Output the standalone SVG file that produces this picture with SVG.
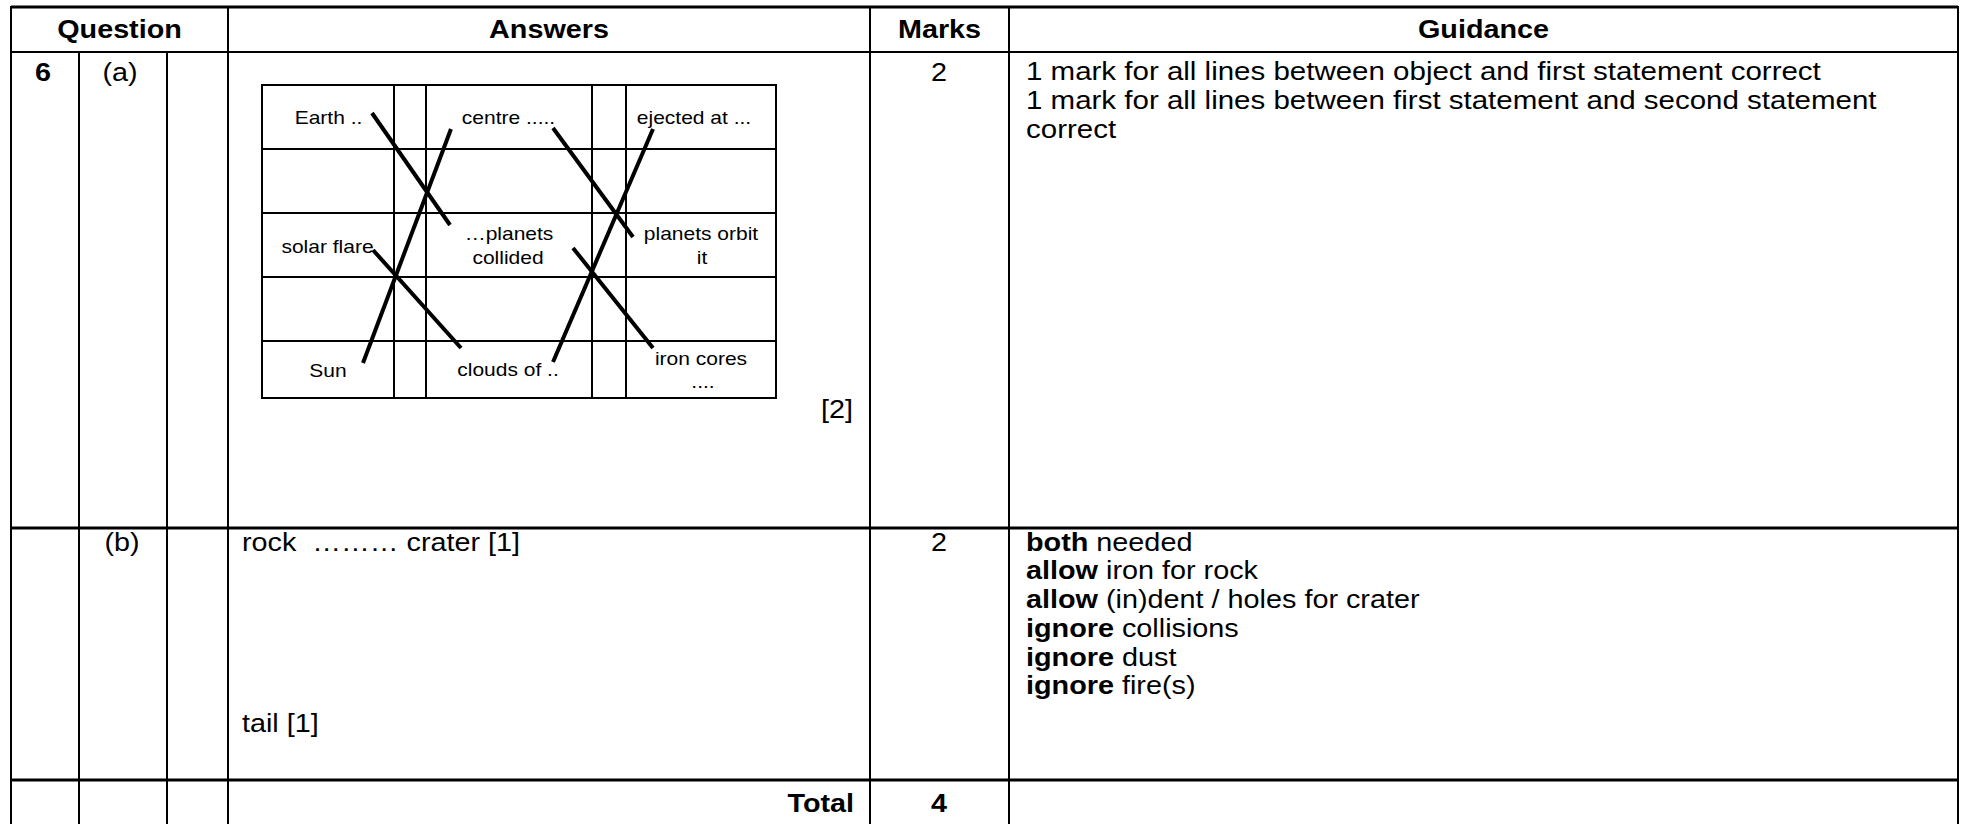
<svg xmlns="http://www.w3.org/2000/svg" width="1961" height="824" viewBox="0 0 1961 824">
<style>
.t{font-family:"Liberation Sans",Arial,sans-serif;font-size:25px;fill:#000}
.b{font-weight:bold}
.m{text-anchor:middle}
.e{text-anchor:end}
.s{font-family:"Liberation Sans",Arial,sans-serif;font-size:17.5px;fill:#000;text-anchor:middle}
.g{stroke:#000;stroke-width:2;fill:none}
.h{stroke:#000;stroke-width:3;fill:none}
.c{stroke:#000;stroke-width:4;fill:none}
</style>
<rect width="1961" height="824" fill="#fff"/>
<g id="table-grid">
<line class="h" x1="11" y1="7" x2="1958" y2="7"/>
<line class="g" x1="11" y1="52" x2="1958" y2="52"/>
<line class="h" x1="11" y1="528" x2="1958" y2="528"/>
<line class="h" x1="11" y1="780" x2="1958" y2="780"/>
<line class="g" x1="11" y1="6" x2="11" y2="824"/>
<line class="g" x1="79" y1="52" x2="79" y2="824"/>
<line class="g" x1="167" y1="52" x2="167" y2="824"/>
<line class="g" x1="228" y1="6" x2="228" y2="824"/>
<line class="g" x1="870" y1="6" x2="870" y2="824"/>
<line class="g" x1="1009" y1="6" x2="1009" y2="824"/>
<line class="g" x1="1958" y1="6" x2="1958" y2="824"/>
</g>
<g id="header">
<text class="t b m" transform="translate(119.5,38) scale(1.15,1)">Question</text>
<text class="t b m" transform="translate(549,38) scale(1.15,1)">Answers</text>
<text class="t b m" transform="translate(939.5,38) scale(1.15,1)">Marks</text>
<text class="t b m" transform="translate(1483.5,38) scale(1.15,1)">Guidance</text>
</g>
<g id="row-a">
<text class="t b" transform="translate(35,81) scale(1.15,1)">6</text>
<text class="t m" transform="translate(120,81) scale(1.15,1)">(a)</text>
<text class="t m" transform="translate(939,81) scale(1.15,1)">2</text>
<text class="t e" transform="translate(853,418) scale(1.15,1)">[2]</text>
<text class="t" transform="translate(1026,80) scale(1.18,1)">1 mark for all lines between object and first statement correct</text>
<text class="t" transform="translate(1026,109) scale(1.18,1)">1 mark for all lines between first statement and second statement</text>
<text class="t" transform="translate(1026,138) scale(1.18,1)">correct</text>
</g>
<g id="matching-table">
<rect class="g" x="262" y="85" width="514" height="313"/>
<line class="g" x1="394" y1="85" x2="394" y2="398"/>
<line class="g" x1="426" y1="85" x2="426" y2="398"/>
<line class="g" x1="592" y1="85" x2="592" y2="398"/>
<line class="g" x1="626" y1="85" x2="626" y2="398"/>
<line class="g" x1="262" y1="149" x2="776" y2="149"/>
<line class="g" x1="262" y1="213" x2="776" y2="213"/>
<line class="g" x1="262" y1="277" x2="776" y2="277"/>
<line class="g" x1="262" y1="341" x2="776" y2="341"/>
</g>
<g id="node-earth"><text class="s" transform="translate(328.5,124) scale(1.2,1)">Earth ..</text></g>
<g id="node-solar-flare"><text class="s" transform="translate(327.5,253) scale(1.2,1)">solar flare</text></g>
<g id="node-sun"><text class="s" transform="translate(328,377) scale(1.2,1)">Sun</text></g>
<g id="node-centre"><text class="s" transform="translate(508.5,124) scale(1.2,1)">centre .....</text></g>
<g id="node-planets-collided">
<text class="s" transform="translate(509,240) scale(1.2,1)">…planets</text>
<text class="s" transform="translate(508,264) scale(1.2,1)">collided</text>
</g>
<g id="node-clouds"><text class="s" transform="translate(508,376) scale(1.2,1)">clouds of ..</text></g>
<g id="node-ejected"><text class="s" transform="translate(694,124) scale(1.2,1)">ejected at ...</text></g>
<g id="node-planets-orbit">
<text class="s" transform="translate(701,240) scale(1.2,1)">planets orbit</text>
<text class="s" transform="translate(702,264) scale(1.2,1)">it</text>
</g>
<g id="node-iron-cores">
<text class="s" transform="translate(701,365) scale(1.2,1)">iron cores</text>
<text class="s" transform="translate(703,388) scale(1.2,1)">....</text>
</g>
<g id="connectors">
<line class="c" x1="372" y1="113" x2="450" y2="225"/>
<line class="c" x1="451" y1="129" x2="363" y2="363"/>
<line class="c" x1="373" y1="250" x2="461" y2="348"/>
<line class="c" x1="553" y1="128" x2="633" y2="237"/>
<line class="c" x1="653" y1="129" x2="553" y2="362"/>
<line class="c" x1="573" y1="248" x2="653" y2="348"/>
</g>
<g id="row-b">
<text class="t m" transform="translate(122,551) scale(1.15,1)">(b)</text>
<text class="t" transform="translate(242,551) scale(1.15,1)">rock &#160;……… crater [1]</text>
<text class="t" transform="translate(242,732) scale(1.15,1)">tail [1]</text>
<text class="t m" transform="translate(939,551) scale(1.15,1)">2</text>
<text class="t" transform="translate(1026,550.5) scale(1.152,1)"><tspan class="b">both</tspan> needed</text>
<text class="t" transform="translate(1026,579) scale(1.152,1)"><tspan class="b">allow</tspan> iron for rock</text>
<text class="t" transform="translate(1026,608) scale(1.152,1)"><tspan class="b">allow</tspan> (in)dent / holes for crater</text>
<text class="t" transform="translate(1026,637) scale(1.152,1)"><tspan class="b">ignore</tspan> collisions</text>
<text class="t" transform="translate(1026,665.5) scale(1.152,1)"><tspan class="b">ignore</tspan> dust</text>
<text class="t" transform="translate(1026,694) scale(1.152,1)"><tspan class="b">ignore</tspan> fire(s)</text>
</g>
<g id="row-total">
<text class="t b e" transform="translate(854,812) scale(1.15,1)">Total</text>
<text class="t b m" transform="translate(939,812) scale(1.15,1)">4</text>
</g>
</svg>
